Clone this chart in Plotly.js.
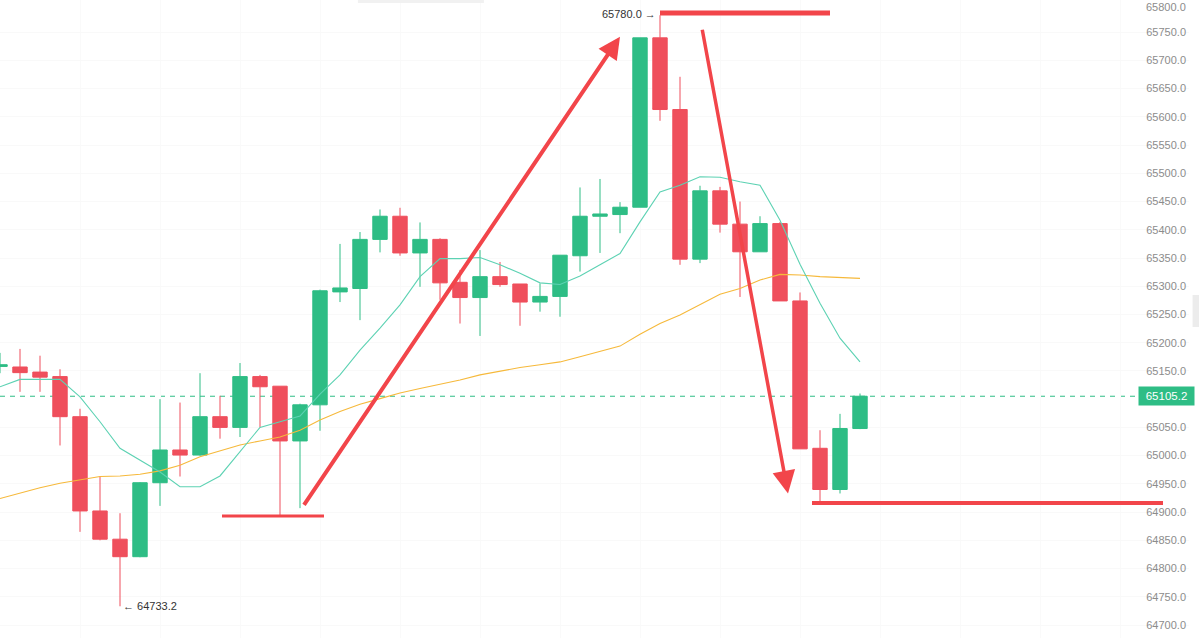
<!DOCTYPE html>
<html>
<head>
<meta charset="utf-8">
<script src="https://cdn.plot.ly/plotly-3.0.1.min.js"></script>
<style>html,body{margin:0;padding:0;background:#fff;}#chart{width:1199px;height:638px;}</style>
</head>
<body>
<div id="chart"></div>
<script>
// candle index (one per bar)
const idx = [0,1,2,3,4,5,6,7,8,9,10,11,12,13,14,15,16,17,18,19,20,21,22,23,24,25,26,27,28,29,30,31,32,33,34,35,36,37,38,39,40,41,42,43];
const openP  = [65158,65157,65148,65140,65069,64902,64852,64821,64952,65010,65001,65069,65050,65140,65123,65026,65090,65290,65296,65383,65424,65359,65383,65307,65280,65317,65304,65272,65282,65354,65424,65427,65440,65740,65613,65348,65469,65410,65361,65411,65274,65013,64940,65048];
const highP  = [65182,65189,65177,65153,65083,64963,64898,64953,65100,65094,65146,65106,65164,65143,65123,65092,65294,65375,65396,65436,65439,65413,65385,65329,65364,65343,65304,65305,65355,65475,65490,65449,65740,65780,65671,65478,65476,65450,65424,65414,65289,65045,65074,65110];
const lowP   = [65146,65113,65113,65018,64865,64850,64733.2,64820,64911,64963,65000,65030,65033,65050,64893,64907,65044,65272,65240,65360,65354,65299,65276,65234,65212,65299,65230,65255,65246,65326,65359,65394,65440,65593,65338,65341,65395,65281,65361,65274,65012,64918,64933,65047];
const closeP = [65161,65147,65139,65069,64902,64852,64821,64952,65010,65001,65069,65050,65140,65122,65026,65090,65292,65297,65383,65424,65359,65383,65306,65280,65317,65303,65272,65282,65355,65424,65428,65440,65740,65613,65348,65469,65410,65361,65411,65274,65012,64940,65048,65105.2];
// moving averages
const maFast = [65122,65135,65135,65135,65104,65060,65013,64992,64971,64945,64945,64964,65007,65050,65060,65070,65109,65143,65187,65226,65267,65317,65349,65349,65351,65338,65323,65306,65303,65318,65338,65358,65414,65467,65479,65494,65493,65485,65479,65417,65339,65270,65208,65166];
const maSlow = [64924,64934,64943,64951,64957,64963,64964,64967,64973,64983,64998,65008,65019,65026,65033,65045,65063,65078,65091,65101,65111,65119,65126,65134,65143,65150,65156,65161,65166,65175,65184,65194,65215,65234,65249,65267,65286,65296,65311,65321,65320,65317,65315,65314];
const lastPrice = 65105.2;
const highMark = 65780.0;
const lowMark = 64733.2;
// tick labels shown on the price axis (65100 sits under the last-price tag)
const tickVals = [64700,64750,64800,64850,64900,64950,65000,65050,65150,65200,65250,65300,65350,65400,65450,65500,65550,65600,65650,65700,65750];
const topTick = 65800;

const GREEN = '#2ebd85', RED = '#ef4f5c', ARROW = '#f2454a';
const FONT = 'Liberation Sans, Arial, sans-serif';

const traces = [
  {type:'scatter', mode:'lines', x: idx, y: maSlow, line:{color:'#f6b93b', width:1.1}, hoverinfo:'skip'},
  {type:'scatter', mode:'lines', x: idx, y: maFast, line:{color:'#5dd2b3', width:1.1}, hoverinfo:'skip'},
  {type:'candlestick', x: idx, open: openP, high: highP, low: lowP, close: closeP,
   increasing:{line:{color:GREEN, width:1}, fillcolor:GREEN},
   decreasing:{line:{color:RED, width:1}, fillcolor:RED},
   whiskerwidth:0, hoverinfo:'skip'}
];

const shapes = [
  {type:'line', xref:'x', yref:'y', x0:-1, x1:56.9, y0:lastPrice, y1:lastPrice, line:{color:GREEN, width:1, dash:'5px,5px'}, layer:'below'},
  {type:'line', xref:'x', yref:'y', x0:11.1, x1:16.2, y0:64893, y1:64893, line:{color:ARROW, width:3}},
  {type:'line', xref:'x', yref:'y', x0:33, x1:41.5, y0:65784, y1:65784, line:{color:ARROW, width:5}},
  {type:'line', xref:'x', yref:'y', x0:40.6, x1:58.15, y0:64916, y1:64916, line:{color:ARROW, width:4}},
  {type:'rect', xref:'paper', yref:'paper', x0:1.003, x1:1.009, y0:0.4875, y1:0.5376, fillcolor:'#ececec', line:{width:0}},
  {type:'rect', xref:'paper', yref:'paper', x0:0.301, x1:0.407, y0:0.9953, y1:1, fillcolor:'#f1f1f1', line:{width:0}}
];

const annotations = [
  {xref:'x', yref:'y', axref:'x', ayref:'y', x:31.0, y:65742, ax:15.15, ay:64910, showarrow:true, arrowhead:2, arrowsize:1.1, arrowwidth:4, arrowcolor:ARROW, text:''},
  {xref:'x', yref:'y', axref:'x', ayref:'y', x:39.4, y:64933, ax:35.1, ay:65757, showarrow:true, arrowhead:2, arrowsize:1.3, arrowwidth:3.5, arrowcolor:ARROW, text:''},
  {xref:'x', yref:'y', x:33, y:65782, xanchor:'right', yanchor:'middle', xshift:-2, showarrow:false, text:highMark.toFixed(1)+' →', font:{family:FONT, size:11, color:'#333'}},
  {xref:'x', yref:'y', x:6, y:lowMark, xanchor:'left', yanchor:'middle', xshift:1, showarrow:false, text:'← '+lowMark.toFixed(1), font:{family:FONT, size:11, color:'#333'}},
  {xref:'paper', yref:'paper', x:0.9985, y:1, xanchor:'right', yanchor:'top', showarrow:false, text:topTick.toFixed(1), borderpad:0, font:{family:FONT, size:11, color:'#8c8c8c'}},
  {xref:'paper', yref:'y', x:1.005, y:lastPrice, xanchor:'right', yanchor:'middle', showarrow:false, text:lastPrice.toFixed(1), bgcolor:GREEN, width:53, height:16, borderpad:1, font:{family:FONT, size:11.5, color:'#fff'}}
];

const layout = {
  width:1199, height:638,
  margin:{l:0, r:10, t:0, b:0, pad:0},
  paper_bgcolor:'#fff', plot_bgcolor:'#fff',
  showlegend:false,
  boxgap:0.28, boxgroupgap:0,
  xaxis:{range:[0, 59.45], showticklabels:false, ticks:'', showgrid:true, gridcolor:'#fafafa', tick0:0, dtick:4, zeroline:false, showline:false, rangeslider:{visible:false}, fixedrange:true},
  yaxis:{range:[64677, 65807], side:'right', ticklabelposition:'inside', tickvals:tickVals, ticktext:tickVals.map(v=>v.toFixed(1)), ticks:'', showgrid:true, gridcolor:'#f9f9f9', zeroline:false, showline:false, tickfont:{family:FONT, size:11, color:'#8c8c8c'}, fixedrange:true},
  shapes: shapes,
  annotations: annotations,
  font:{family:FONT}
};

Plotly.newPlot('chart', traces, layout, {staticPlot:true, displayModeBar:false});
</script>
</body>
</html>
